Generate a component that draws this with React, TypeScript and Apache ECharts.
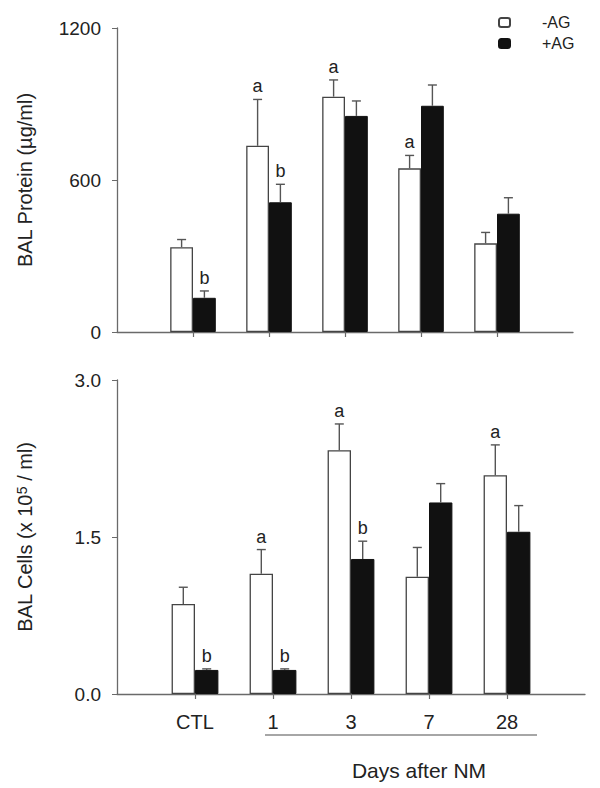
import React, { useEffect, useRef } from "react";
import * as echarts from "echarts";

const categories = ["", "CTL", "1", "3", "7", "28", ""];

const proteinMinus = [335, 735, 929, 646, 350];
const proteinMinusErr = [30, 183, 66, 51, 43];
const proteinPlus = [135, 512, 853, 893, 467];
const proteinPlusErr = [27, 71, 59, 82, 63];
const proteinMinusLetters = ["", "a", "a", "a", ""];
const proteinPlusLetters = ["b", "b", "", "", ""];

const cellsMinus = [0.86, 1.15, 2.33, 1.12, 2.09];
const cellsMinusErr = [0.16, 0.23, 0.25, 0.28, 0.29];
const cellsPlus = [0.23, 0.23, 1.29, 1.83, 1.55];
const cellsPlusErr = [0.01, 0.01, 0.17, 0.18, 0.25];
const cellsMinusLetters = ["", "a", "a", "", "a"];
const cellsPlusLetters = ["b", "b", "b", "", ""];

const proteinTicks = [0, 600, 1200];
const cellsTicks = [0, 1.5, 3.0];

const FONT = "Liberation Sans, Arial, Helvetica, sans-serif";
const AXIS_COLOR = "#6a6a6a";
const TEXT_COLOR = "#222222";

const pad = (arr: number[]) => ["-", ...arr, "-"];

function errorSeries(
  name: string,
  gridIdx: number,
  values: number[],
  errs: number[],
  letters: string[],
  side: number
) {
  return {
    type: "custom",
    name: name + "-err",
    xAxisIndex: gridIdx,
    yAxisIndex: gridIdx,
    silent: true,
    z: 5,
    data: values.map((v, i) => [i + 1, v, errs[i]]),
    renderItem: (params: any, api: any) => {
      const x = api.value(0);
      const v = api.value(1);
      const e = api.value(2);
      const bw = api.size([1, 0])[0];
      const off = bw * 0.15 * side;
      const base = api.coord([x, v]);
      const top = api.coord([x, v + e]);
      const cx = base[0] + off;
      const letter = letters[params.dataIndex];
      const children: any[] = [
        {
          type: "line",
          shape: { x1: cx, y1: base[1], x2: cx, y2: top[1] },
          style: { stroke: "#555", lineWidth: 1.4 },
        },
        {
          type: "line",
          shape: { x1: cx - 4.5, y1: top[1], x2: cx + 4.5, y2: top[1] },
          style: { stroke: "#555", lineWidth: 1.4 },
        },
      ];
      if (letter) {
        children.push({
          type: "text",
          x: cx,
          y: top[1] - 4,
          style: {
            text: letter,
            fill: TEXT_COLOR,
            font: `18px ${FONT}`,
            textAlign: "center",
            textVerticalAlign: "bottom",
          },
        });
      }
      return { type: "group", children };
    },
  };
}

export default function App() {
  const ref = useRef<HTMLDivElement>(null);
  useEffect(() => {
    if (!ref.current) return;
    const chart = echarts.init(ref.current, undefined, { renderer: "svg" });
    const commonX = (gridIndex: number, showLabels: boolean) => ({
      type: "category",
      gridIndex,
      data: categories,
      boundaryGap: false,
      axisLine: { lineStyle: { color: AXIS_COLOR, width: 1.3 } },
      axisTick: {
        show: true,
        length: 5,
        interval: (idx: number) => idx > 0 && idx < categories.length - 1,
        lineStyle: { color: AXIS_COLOR, width: 1.2 },
      },
      axisLabel: {
        show: showLabels,
        interval: 0,
        margin: 18,
        fontSize: 20,
        fontFamily: FONT,
        color: TEXT_COLOR,
      },
      splitLine: { show: false },
    });
    const barSeries = (
      name: string,
      gridIdx: number,
      values: number[],
      white: boolean
    ) => ({
      type: "bar",
      name,
      xAxisIndex: gridIdx,
      yAxisIndex: gridIdx,
      data: pad(values),
      barWidth: "30%",
      barGap: "0%",
      itemStyle: white
        ? { color: "#ffffff", borderColor: "#444", borderWidth: 1.3 }
        : { color: "#111111", borderColor: "#111111", borderWidth: 1 },
    });
    const yAxisBase = {
      type: "value",
      nameLocation: "middle",
      nameGap: 82,
      axisLine: { show: true, lineStyle: { color: AXIS_COLOR, width: 1.3 } },
      axisTick: { show: true, length: 5, lineStyle: { color: AXIS_COLOR } },
      splitLine: { show: false },
    };
    const option: any = {
      animation: false,
      backgroundColor: "#ffffff",
      textStyle: { fontFamily: FONT },
      legend: {
        orient: "vertical",
        left: 493,
        top: 9,
        itemWidth: 11,
        itemHeight: 9,
        itemGap: 4,
        data: ["-AG", "+AG"],
        textStyle: {
          fontSize: 16,
          fontFamily: FONT,
          color: TEXT_COLOR,
          padding: [0, 0, 0, 27],
          lineHeight: 17,
        },
      },
      grid: [
        { left: 117, top: 28, width: 456, height: 304 },
        { left: 117, top: 380, width: 468, height: 314 },
      ],
      xAxis: [commonX(0, false), commonX(1, true)],
      yAxis: [
        {
          ...yAxisBase,
          gridIndex: 0,
          min: proteinTicks[0],
          max: proteinTicks[proteinTicks.length - 1],
          interval: proteinTicks[1] - proteinTicks[0],
          name: "BAL Protein (µg/ml)",
          nameTextStyle: { fontSize: 20, fontFamily: FONT, color: TEXT_COLOR },
          axisLabel: {
            margin: 16,
            fontSize: 19,
            fontFamily: FONT,
            color: TEXT_COLOR,
            formatter: (v: number) => String(v),
          },
        },
        {
          ...yAxisBase,
          gridIndex: 1,
          min: cellsTicks[0],
          max: cellsTicks[cellsTicks.length - 1],
          interval: cellsTicks[1] - cellsTicks[0],
          name: "{a|BAL Cells (x 10}{s|5}{a| / ml)}",
          nameTextStyle: {
            fontSize: 20,
            fontFamily: FONT,
            color: TEXT_COLOR,
            rich: {
              a: { fontSize: 20, fontFamily: FONT, color: TEXT_COLOR },
              s: {
                fontSize: 14,
                fontFamily: FONT,
                color: TEXT_COLOR,
                verticalAlign: "top",
                lineHeight: 12,
              },
            },
          },
          axisLabel: {
            margin: 16,
            fontSize: 19,
            fontFamily: FONT,
            color: TEXT_COLOR,
            formatter: (v: number) => v.toFixed(1),
          },
        },
      ],
      series: [
        barSeries("-AG", 0, proteinMinus, true),
        barSeries("+AG", 0, proteinPlus, false),
        barSeries("-AG", 1, cellsMinus, true),
        barSeries("+AG", 1, cellsPlus, false),
        errorSeries("-AG", 0, proteinMinus, proteinMinusErr, proteinMinusLetters, -1),
        errorSeries("+AG", 0, proteinPlus, proteinPlusErr, proteinPlusLetters, 1),
        errorSeries("-AG", 1, cellsMinus, cellsMinusErr, cellsMinusLetters, -1),
        errorSeries("+AG", 1, cellsPlus, cellsPlusErr, cellsPlusLetters, 1),
      ],
      graphic: [
        {
          type: "line",
          shape: { x1: 265, y1: 735, x2: 537, y2: 735 },
          style: { stroke: "#888", lineWidth: 1.5 },
        },
        {
          type: "text",
          x: 419,
          y: 770,
          style: {
            text: "Days after NM",
            font: `21px ${FONT}`,
            fill: TEXT_COLOR,
            textAlign: "center",
            textVerticalAlign: "middle",
          },
        },
      ],
    };
    chart.setOption(option);
    return () => chart.dispose();
  }, []);
  return (
    <div
      ref={ref}
      style={{ position: "fixed", left: 0, top: 0, width: 600, height: 788 }}
    />
  );
}
